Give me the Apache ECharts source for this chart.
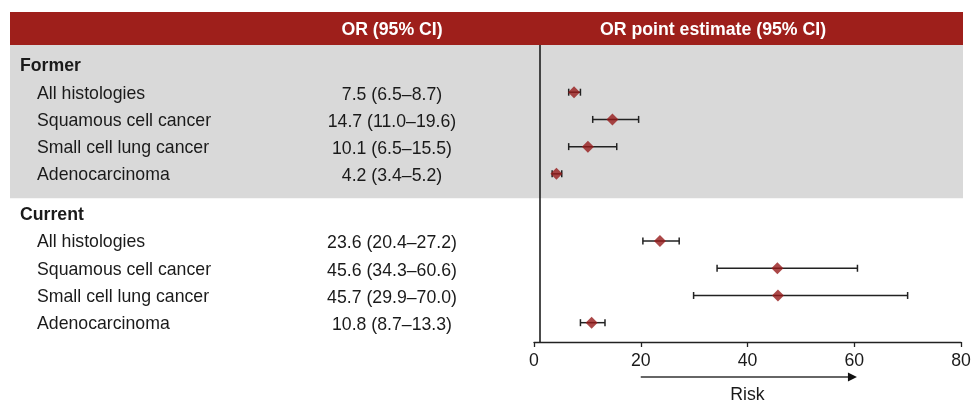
<!DOCTYPE html>
<html>
<head>
<meta charset="utf-8">
<script src="https://cdn.jsdelivr.net/npm/echarts@6/dist/echarts.min.js"></script>
<style>html,body{margin:0;padding:0;background:#fff;}#chart{width:971px;height:400px;}</style>
</head>
<body>
<div id="chart"></div>
<script>
// ---- data ----
const groups = ['Former', 'Current'];
const histologies = ['All histologies', 'Squamous cell cancer', 'Small cell lung cancer', 'Adenocarcinoma'];
const formerOR = [7.5, 14.7, 10.1, 4.2];
const formerLow = [6.5, 11.0, 6.5, 3.4];
const formerHigh = [8.7, 19.6, 15.5, 5.2];
const currentOR = [23.6, 45.6, 45.7, 10.8];
const currentLow = [20.4, 34.3, 29.9, 8.7];
const currentHigh = [27.2, 60.6, 70.0, 13.3];
const xTicks = [0, 20, 40, 60, 80];
const referenceOR = 1;
const riskArrow = [20, 60.5];
const headerLeft = 'OR (95% CI)';
const headerRight = 'OR point estimate (95% CI)';
const axisName = 'Risk';

// ---- layout helpers ----
const FONT = "'Liberation Sans', Arial, Helvetica, sans-serif";
const FS = 17.7;
const GROUP_STEP = 5.47;
const rowPos = (g, i) => g * GROUP_STEP + i;   // i = 0 header row
const Y_MIN = -0.735, Y_MAX = 10.18;

const ors = [formerOR, currentOR], lows = [formerLow, currentLow], highs = [formerHigh, currentHigh];
const fmt = v => v.toFixed(1);

const estimateData = [];
const textData = [];
groups.forEach((g, gi) => {
  textData.push({ value: [0, rowPos(gi, 0)], name: g, kind: 'group', ci: '' });
  histologies.forEach((h, hi) => {
    const y = rowPos(gi, hi + 1);
    estimateData.push([ors[gi][hi], lows[gi][hi], highs[gi][hi], y]);
    textData.push({ value: [0, y], name: h, kind: 'row',
      ci: fmt(ors[gi][hi]) + ' (' + fmt(lows[gi][hi]) + '\u2013' + fmt(highs[gi][hi]) + ')' });
  });
});

const chart = echarts.init(document.getElementById('chart'), null, { renderer: 'canvas' });

const TEXT_COLOR = '#1a1a1a';

chart.setOption({
  animation: false,
  backgroundColor: '#ffffff',
  graphic: [
    { type: 'rect', z: 0, shape: { x: 10, y: 45, width: 953, height: 153.3 }, style: { fill: '#d9d9d9' } },
    { type: 'rect', z: 0, shape: { x: 10, y: 12, width: 953, height: 33 }, style: { fill: '#9e1f1b' } },
    { type: 'text', z: 5, x: 392, y: 30, style: { text: headerLeft, fill: '#fff', font: 'bold ' + FS + 'px ' + FONT, textAlign: 'center', textVerticalAlign: 'middle' } },
    { type: 'text', z: 5, x: 713, y: 30, style: { text: headerRight, fill: '#fff', font: 'bold ' + FS + 'px ' + FONT, textAlign: 'center', textVerticalAlign: 'middle' } }
  ],
  grid: [
    { left: 534, top: 45, width: 427, height: 297, containLabel: false, outerBoundsMode: 'none' },
    { left: 10, top: 45, width: 524, height: 297, containLabel: false, outerBoundsMode: 'none' }
  ],
  xAxis: [
    {
      gridIndex: 0, type: 'value', min: xTicks[0], max: xTicks[xTicks.length - 1], interval: xTicks[1] - xTicks[0],
      axisLine: { show: true, onZero: false, lineStyle: { color: '#222', width: 1.3 } },
      axisTick: { show: true, inside: false, length: 5, lineStyle: { color: '#222', width: 1.3 } },
      axisLabel: { color: TEXT_COLOR, fontSize: FS, fontFamily: FONT, margin: 10 },
      splitLine: { show: false },
      name: axisName, nameLocation: 'middle', nameGap: 44,
      nameTextStyle: { color: TEXT_COLOR, fontSize: FS, fontFamily: FONT }
    },
    { gridIndex: 1, type: 'value', min: 0, max: 1, show: false }
  ],
  yAxis: [
    { gridIndex: 0, type: 'value', min: Y_MIN, max: Y_MAX, inverse: true, show: false },
    { gridIndex: 1, type: 'value', min: Y_MIN, max: Y_MAX, inverse: true, show: false }
  ],
  series: [
    {
      type: 'custom', xAxisIndex: 0, yAxisIndex: 0, z: 3, clip: false,
      data: estimateData,
      encode: { x: [0, 1, 2], y: 3 },
      renderItem: function (params, api) {
        const y = api.value(3);
        const p1 = api.coord([api.value(1), y]);
        const p2 = api.coord([api.value(2), y]);
        const c = 3.5;
        const st = { stroke: '#222', lineWidth: 1.5 };
        return {
          type: 'group',
          children: [
            { type: 'line', shape: { x1: p1[0], y1: p1[1], x2: p2[0], y2: p2[1] }, style: st },
            { type: 'line', shape: { x1: p1[0], y1: p1[1] - c, x2: p1[0], y2: p1[1] + c }, style: st },
            { type: 'line', shape: { x1: p2[0], y1: p2[1] - c, x2: p2[0], y2: p2[1] + c }, style: st }
          ]
        };
      },
      markLine: {
        silent: true, symbol: 'none', label: { show: false },
        lineStyle: { type: 'solid', color: '#111', width: 1.5 },
        data: [{ xAxis: referenceOR }]
      }
    },
    {
      type: 'scatter', xAxisIndex: 0, yAxisIndex: 0, z: 4,
      symbol: 'diamond', symbolSize: [12, 12],
      itemStyle: { color: '#961a1a' },
      data: estimateData.map(d => [d[0], d[3]])
    },
    {
      type: 'custom', xAxisIndex: 0, yAxisIndex: 0, z: 3, clip: false,
      data: [[riskArrow[0], riskArrow[1]]],
      renderItem: function (params, api) {
        const a = api.coord([api.value(0), Y_MAX]);
        const b = api.coord([api.value(1), Y_MAX]);
        const y = a[1] + 35;
        return {
          type: 'group',
          children: [
            { type: 'line', shape: { x1: a[0], y1: y, x2: b[0] - 8, y2: y }, style: { stroke: '#333', lineWidth: 1.4 } },
            { type: 'polygon', shape: { points: [[b[0] - 9, y - 4.5], [b[0], y], [b[0] - 9, y + 4.5]] }, style: { fill: '#111' } }
          ]
        };
      }
    },
    {
      type: 'custom', xAxisIndex: 1, yAxisIndex: 1, z: 5, clip: false,
      data: textData,
      renderItem: function (params, api) {
        const d = textData[params.dataIndex];
        const p = api.coord([0, d.value[1]]);
        const left = p[0];
        const children = [];
        if (d.kind === 'group') {
          children.push({ type: 'text', style: { text: d.name, x: left + 10, y: p[1] + 1, fill: TEXT_COLOR, font: 'bold ' + FS + 'px ' + FONT, textAlign: 'left', textVerticalAlign: 'middle' } });
        } else {
          children.push({ type: 'text', style: { text: d.name, x: left + 27, y: p[1] + 1.5, fill: TEXT_COLOR, font: FS + 'px ' + FONT, textAlign: 'left', textVerticalAlign: 'middle' } });
          children.push({ type: 'text', style: { text: d.ci, x: left + 382, y: p[1] + 2.5, fill: TEXT_COLOR, font: FS + 'px ' + FONT, textAlign: 'center', textVerticalAlign: 'middle' } });
        }
        return { type: 'group', children: children };
      }
    }
  ]
});
</script>
</body>
</html>
